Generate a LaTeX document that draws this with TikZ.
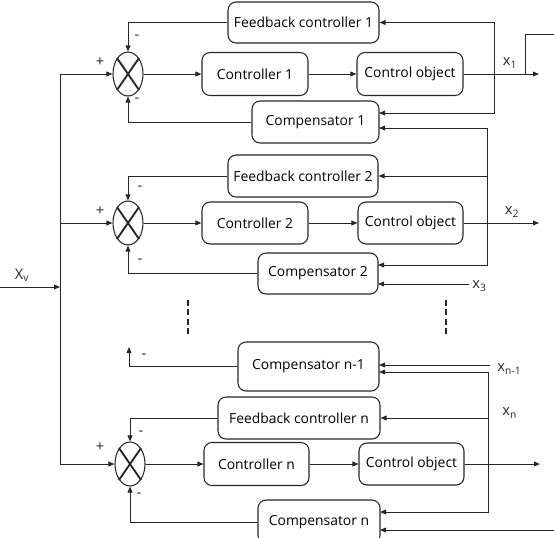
\documentclass[tikz,border=0pt]{standalone}
\usepackage{fontspec}
\setmainfont{Open Sans}
\usetikzlibrary{arrows.meta,shapes.geometric,calc}
\begin{document}
\begin{tikzpicture}[x=0.75pt,y=-0.75pt,
  line width=0.7pt, draw=black!85,
  arr/.style={-{Triangle[length=4.5pt,width=3.6pt]}},
  blk/.style={draw=black!85, rounded corners=6pt, inner sep=0pt, font=\fontsize{10.4}{12}\selectfont, line width=0.8pt},
  sumj/.style={draw=black!85, ellipse, minimum width=22.5pt, minimum height=33pt, inner sep=0pt, line width=0.8pt},
  lbl/.style={font=\fontsize{11}{13}\selectfont, inner sep=0pt, text=black!85},
  sgn/.style={font=\fontsize{11}{12}\selectfont, inner sep=0pt, text=black!85},
  dotsl/.style={line width=2.2pt, dash pattern=on 4.5pt off 2.5pt, draw=black!85}
]
\useasboundingbox (0,0) rectangle (554,537);
\clip (0,0) rectangle (554,537);

% ---------- blocks ----------
\node[blk, minimum width=113.25pt, minimum height=30.75pt] (fb1) at (303.5,22.5) {Feedback controller 1};
\node[blk, minimum width=79.5pt, minimum height=32.25pt] (c1) at (255,74) {Controller 1};
\node[blk, minimum width=79.5pt, minimum height=32.25pt] (co1) at (410,74) {Control object};
\node[blk, minimum width=95.25pt, minimum height=31.5pt] (comp1) at (315.5,122) {Compensator 1};

\node[blk, minimum width=112.5pt, minimum height=31.5pt] (fb2) at (303,176) {Feedback controller 2};
\node[blk, minimum width=79.5pt, minimum height=31.5pt] (c2) at (255,223) {Controller 2};
\node[blk, minimum width=78.75pt, minimum height=31.5pt] (co2) at (410.5,223) {Control object};
\node[blk, minimum width=90pt, minimum height=30.75pt] (comp2) at (318,273.5) {Compensator 2};

\node[blk, minimum width=105.75pt, minimum height=36.75pt] (compn1) at (308.5,366.5) {Compensator n-1};
\node[blk, minimum width=121.5pt, minimum height=31.5pt] (fbn) at (299,418) {Feedback controller n};
\node[blk, minimum width=78.75pt, minimum height=32.25pt] (cn) at (256.5,464) {Controller n};
\node[blk, minimum width=78.75pt, minimum height=31.5pt] (con) at (411.5,464) {Control object};
\node[blk, minimum width=91.5pt, minimum height=33pt] (compn) at (319,522) {Compensator n};

% ---------- summing junctions ----------
\node[sumj] (s1) at (128,74) {};
\node[sumj] (s2) at (128,223) {};
\node[sumj] (sn) at (130,464) {};
\foreach \s in {s1,s2,sn}{
  \draw[line width=1.4pt] (\s.north west) -- (\s.south east) (\s.north east) -- (\s.south west);
}

% ---------- coordinates ----------
\coordinate (bus1) at (60,74);
\coordinate (bus2) at (60,223);
\coordinate (busn) at (60,464);
\coordinate (xv0) at (0,287);
\coordinate (xvj) at (60,287);
\coordinate (out1) at (539,74);
\coordinate (out2) at (539,223);
\coordinate (outn) at (540,464);
\coordinate (j1) at (494,74);
\coordinate (w1) at (525,74);
\coordinate (wtop) at (554,34);
\coordinate (j2) at (487,223);
\coordinate (jn) at (488,464);
\coordinate (comp1a) at (379,113);
\coordinate (comp1b) at (379,128);
\coordinate (comp2a) at (378,265);
\coordinate (comp2b) at (378,284);
\coordinate (x3s) at (469,284);
\coordinate (compn1a) at (379,365);
\coordinate (compn1b) at (379,372);
\coordinate (xn1s) at (490,365);
\coordinate (compna) at (380,512);
\coordinate (compnb) at (380,530);
\coordinate (wbot) at (554,530);
\coordinate (stub) at (129,347);

% ---------- left bus ----------
\draw (bus1) -- (busn);
\draw[arr] (xv0) -- (xvj);
\node[lbl] at (22,275) {X\textsubscript{v}};
\draw[arr] (bus1) -- (s1);
\draw[arr] (bus2) -- (s2);
\draw[arr] (busn) -- (sn);

% ---------- row 1 ----------
\draw[arr] (fb1.west) -| (s1.north);
\draw[arr] (comp1.west) -| (s1.south);
\draw[arr] (s1) -- (c1);
\draw[arr] (c1) -- (co1);
\draw[arr] (co1) -- (out1);
\draw[arr] (j1) |- (fb1.east);
\draw[arr] (j1) |- (comp1a);
\draw (w1) |- (wtop);
\node[lbl] at (510,63) {x\textsubscript{1}};
\node[sgn] at (100,62) {+};
\node[sgn] at (137,37) {-};
\node[sgn] at (137,100) {-};

% ---------- row 2 ----------
\draw[arr] (fb2.west) -| (s2.north);
\draw[arr] (comp2.west) -| (s2.south);
\draw[arr] (s2) -- (c2);
\draw[arr] (c2) -- (co2);
\draw[arr] (co2) -- (out2);
\draw[arr] (j2) |- (comp1b);
\draw[arr] (j2) |- (fb2.east);
\draw[arr] (j2) |- (comp2a);
\draw[arr] (x3s) -- (comp2b);
\node[lbl, anchor=west] at (472,286) {x\textsubscript{3}};
\node[lbl] at (512,212) {x\textsubscript{2}};
\node[sgn] at (100,211) {+};
\node[sgn] at (140,188) {-};
\node[sgn] at (140,261) {-};

% ---------- dots ----------
\draw[dotsl] (188,300) -- (188,335);
\draw[dotsl] (446,300) -- (446,335);

% ---------- row n-1 ----------
\draw[arr] (compn1.west) -| (stub);
\node[sgn] at (144,356) {-};
\draw[arr] (xn1s) -- (compn1a);
\node[lbl, anchor=west] at (497,369) {x\textsubscript{n-1}};

% ---------- row n ----------
\draw[arr] (fbn.west) -| (sn.north);
\draw[arr] (compn.west) -| (sn.south);
\draw[arr] (sn) -- (cn);
\draw[arr] (cn) -- (con);
\draw[arr] (con) -- (outn);
\draw[arr] (jn) |- (compn1b);
\draw[arr] (jn) |- (fbn.east);
\draw[arr] (jn) |- (compna);
\draw[arr] (wbot) -- (compnb);
\node[lbl, anchor=west] at (502,413) {x\textsubscript{n}};
\node[sgn] at (100,447) {+};
\node[sgn] at (141,433) {-};
\node[sgn] at (139,495) {-};
\end{tikzpicture}
\end{document}
